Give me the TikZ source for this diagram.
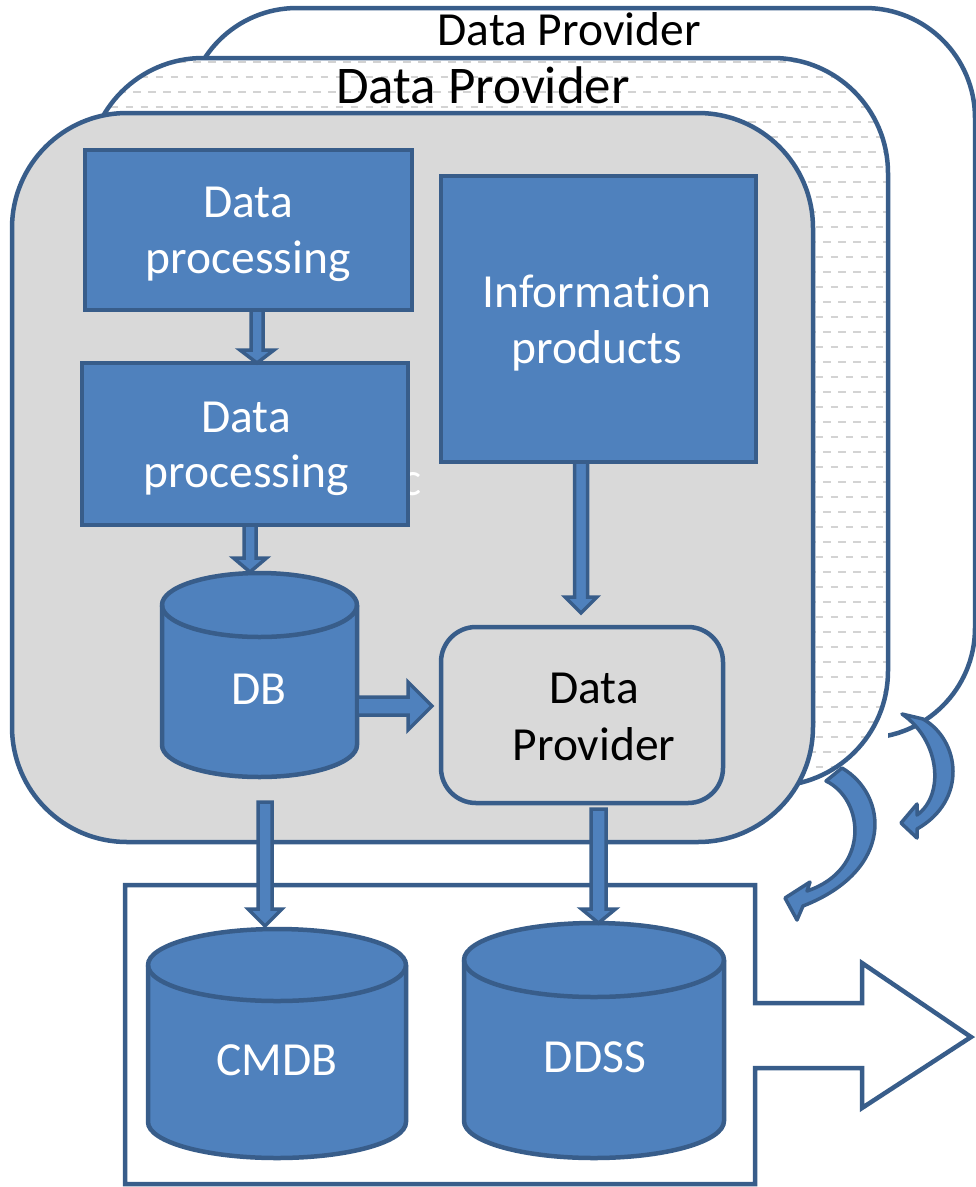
\documentclass[tikz,border=0pt]{standalone}
\usepackage{fontspec}
\setmainfont{Carlito}[Ligatures={NoCommon}]
\usetikzlibrary{calc}

\definecolor{bluefill}{HTML}{4F81BD}
\definecolor{bluedark}{HTML}{385D8A}
\definecolor{panelgray}{HTML}{D9D9D9}
\definecolor{dashgray}{HTML}{D3D3D3}

% vertical block arrow: start point, tip point, shaft half width, head half width, head length
\newcommand\vblk[5]{%
  \path[blockarrow] let \p1=(#1), \p2=(#2) in
    (\x2-#3pt,\y1) -- (\x2-#3pt,\y2+#5pt) -- (\x2-#4pt,\y2+#5pt) -- (\x2,\y2)
    -- (\x2+#4pt,\y2+#5pt) -- (\x2+#3pt,\y2+#5pt) -- (\x2+#3pt,\y1) -- cycle;}
% horizontal block arrow pointing right, same arguments
\newcommand\hblk[5]{%
  \path[blockarrow] let \p1=(#1), \p2=(#2) in
    (\x1,\y2+#3pt) -- (\x2-#5pt,\y2+#3pt) -- (\x2-#5pt,\y2+#4pt) -- (\x2,\y2)
    -- (\x2-#5pt,\y2-#4pt) -- (\x2-#5pt,\y2-#3pt) -- (\x1,\y2-#3pt) -- cycle;}
% database drum drawn inside a named node: node, x radius, y radius
\newcommand\dbdrum[3]{%
  \path[drumbody] ([yshift=-#3pt]#1.north west) -- ([yshift=#3pt]#1.south west)
     arc[start angle=180, end angle=360, x radius=#2pt, y radius=#3pt]
     -- ([yshift=-#3pt]#1.north east)
     arc[start angle=0, end angle=180, x radius=#2pt, y radius=#3pt] -- cycle;
  \draw[drumline] ([yshift=-#3pt]#1.north west)
     arc[start angle=180, end angle=360, x radius=#2pt, y radius=#3pt];}

\tikzset{
  panel/.style={rectangle, draw=bluedark, line width=4.5pt, inner sep=0pt, outer sep=0pt},
  shapeline/.style={draw=bluedark, line width=4.5pt},
  bluebox/.style={rectangle, draw=bluedark, fill=bluefill, line width=4.5pt, inner sep=0pt, outer sep=0pt},
  drumnode/.style={rectangle, inner sep=0pt, outer sep=0pt},
  drumbody/.style={fill=bluefill, draw=bluedark, line width=4.5pt},
  drumline/.style={draw=bluedark, line width=4.5pt},
  txt/.style={font=\fontsize{47.5}{57}\selectfont, inner sep=0pt, anchor=base},
  wtxt/.style={txt, text=white},
  blockarrow/.style={fill=bluefill, draw=bluedark, line width=3.5pt, line join=miter},
  curvearrow/.style={fill=bluefill, draw=bluedark, line width=3.5pt, line join=round},
  dashrow/.style={draw=dashgray, line width=2pt, dash pattern=on 7.5pt off 7.5pt},
}

\begin{document}
\begin{tikzpicture}[x=1pt, y=-1pt]
\useasboundingbox (0,0) rectangle (976,1187);

% rearmost provider panel
\node[panel, fill=white, rounded corners=110pt, minimum width=788pt, minimum height=730pt] (back) at (581,373) {};
\node[txt] (backtitle) at (569,45) {Data Provider};

% middle provider panel with dashed fill
\node[panel, draw=none, fill=white, minimum width=800pt, minimum height=728pt] (mid) at (488,422) {};
\begin{scope}
  \clip[rounded corners=115pt] (mid.north west) rectangle (mid.south east);
  \foreach \yy in {62,92,...,782} \draw[dashrow] (88,\yy) -- (888,\yy);
  \foreach \yy in {77,107,...,782} \draw[dashrow, dash phase=7.5pt] (88,\yy) -- (888,\yy);
\end{scope}
\draw[shapeline, rounded corners=115pt] (mid.north west) rectangle (mid.south east);
\node[txt, font=\fontsize{53}{63}\selectfont] (midtitle) at (483,103) {Data Provider};

% front provider panel
\node[panel, fill=panelgray, rounded corners=115pt, minimum width=801pt, minimum height=729pt] (front) at (412.5,477.5) {};

\node[wtxt] (ctail) at (412,495) {c};

% processing chain
\node[bluebox, minimum width=327pt, minimum height=160pt] (dp1) at (248.5,230) {};
\node[wtxt] (dp1a) at (248,217) {Data};
\node[wtxt] (dp1b) at (248,273) {processing};

\node[bluebox, minimum width=326pt, minimum height=162pt] (dp2) at (245,444) {};
\node[wtxt] (dp2a) at (246,432) {Data};
\node[wtxt] (dp2b) at (246,487) {processing};

\node[bluebox, minimum width=315pt, minimum height=286pt] (info) at (598.5,319) {};
\node[wtxt] (infoa) at (597,307) {Informat\kern0pt ion};
\node[wtxt] (infob) at (597,363) {products};

\node[panel, fill=panelgray, rounded corners=35pt, minimum width=282pt, minimum height=176pt] (prov) at (582,715) {};
\node[txt] (prova) at (594,703) {Data};
\node[txt] (provb) at (594,760) {Provider};

\node[drumnode, minimum width=195pt, minimum height=204pt] (db) at (259.5,675) {};
\dbdrum{db}{97.5}{32}
\node[wtxt] (dbl) at (259,704) {DB};

% output store with outgoing arrow
\draw[shapeline, fill=white] (125,885) -- (755,885) -- (755,1003) -- (862,1003) -- (862,963)
  -- (971,1037) -- (862,1108) -- (862,1068) -- (755,1068) -- (755,1184) -- (125,1184) -- cycle;

\node[drumnode, minimum width=258pt, minimum height=229pt] (cmdb) at (277,1043.5) {};
\dbdrum{cmdb}{129}{36}
\node[wtxt] (cmdbl) at (277,1075) {CMDB};

\node[drumnode, minimum width=260pt, minimum height=235pt] (ddss) at (594,1040.5) {};
\dbdrum{ddss}{130}{37}
\node[wtxt] (ddssl) at (595,1072) {DDSS};

% block connectors
\vblk{$(dp1.south)+(8.5,0)$}{$(dp2.north)+(12,0)$}{6}{17}{13}
\vblk{dp2.south}{$(db.north)+(-9.5,-1)$}{6}{16.5}{14}
\vblk{info.south}{$(prov.north)+(-1,-14)$}{6.5}{16}{16}
\hblk{$(db.east)+(0,31)$}{$(prov.west)+(-9,-9)$}{9}{24}{24}
\vblk{$(db.south)+(0,25)$}{$(cmdb.north)+(-12,-3)$}{7}{17}{17}
\vblk{$(prov.south)+(0,6)$}{$(ddss.north)+(4.5,0)$}{7.5}{17}{14}

% curved arrows between the provider panels
\path[curvearrow] (902,714) -- (923,719) .. controls (960,740) and (968,800) .. (917,829)
  -- (917,838) -- (901,823) -- (917,804) -- (917,815)
  .. controls (945,795) and (940,740) .. (902,714) -- cycle;
\path[curvearrow] (826,781) -- (842,768) .. controls (888,795) and (895,870) .. (803,906)
  -- (797,920) -- (785,898) -- (810,882) -- (807,891)
  .. controls (870,870) and (865,800) .. (826,781) -- cycle;
\end{tikzpicture}
\end{document}
